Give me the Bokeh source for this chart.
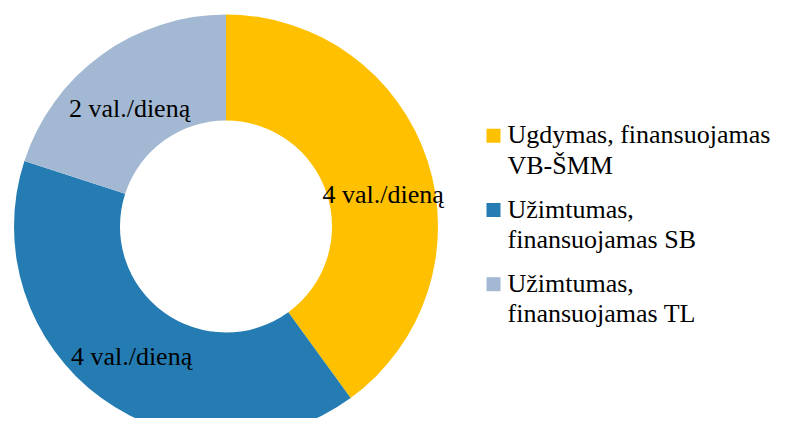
import math
from bokeh.plotting import figure
from bokeh.models import Range1d, ColumnDataSource
from bokeh.core.properties import value
from bokeh.embed import file_html
from bokeh.resources import INLINE

# ---- data ----
categories = ["Ugdymas, finansuojamas VB-ŠMM",
              "Užimtumas, finansuojamas SB",
              "Užimtumas, finansuojamas TL"]
legend_lines = [["Ugdymas, finansuojamas", "VB-ŠMM"],
                ["Užimtumas,", "finansuojamas SB"],
                ["Užimtumas,", "finansuojamas TL"]]
hours = [4, 4, 2]
labels = ["4 val./dieną", "4 val./dieną", "2 val./dieną"]
colors = ["#FFC000", "#247CB3", "#A3B9D3"]

W, H = 771, 418
FONT = "'Times New Roman', 'Liberation Serif', Tinos, 'DejaVu Serif', serif"
FS = "26px"
TXT_SHIFT = 9  # baseline correction (px, upward)

p = figure(width=W, height=H, output_backend="svg", toolbar_location=None,
           x_range=Range1d(0, W), y_range=Range1d(0, H), min_border=0)
p.axis.visible = False
p.grid.visible = False
p.outline_line_color = None
p.background_fill_color = "white"

cx, cy = 225.5, 192.0
r_out, r_in = 212.0, 106.0

total = sum(hours)
starts, ends, mids = [], [], []
a = math.pi / 2
for h in hours:
    span = 2 * math.pi * h / total
    starts.append(a)
    ends.append(a - span)
    mids.append(a - span / 2)
    a -= span

src = ColumnDataSource(dict(start=starts, end=ends, color=colors))
p.annular_wedge(x=cx, y=cy, inner_radius=r_in, outer_radius=r_out,
                start_angle="start", end_angle="end", direction="clock",
                fill_color="color", line_color=None, source=src)

# data labels at mid angle of ring
r_mid = (r_in + r_out) / 2
lx = [cx + r_mid * math.cos(m) for m in mids]
ly = [cy + r_mid * math.sin(m) for m in mids]
lab_dx = [6, -1, -3]
lab_dy = [26 - TXT_SHIFT, 10 - TXT_SHIFT, 20 - TXT_SHIFT]
p.text(x=lx, y=ly, text=labels, x_offset=lab_dx, y_offset=lab_dy,
       text_align="center", text_baseline="alphabetic",
       text_font=value(FONT), text_font_size=FS, text_color="black")

# legend
sq_x = 493
txt_x = 507
entry_top = 274.7
entry_gap = 74.2
line_gap = 30.5
sx, sy, tx, ty, tt = [], [], [], [], []
for i, lines in enumerate(legend_lines):
    base = entry_top - i * entry_gap
    sx.append(sq_x)
    sy.append(base + 8)
    for j, ln in enumerate(lines):
        tx.append(txt_x)
        ty.append(base - j * line_gap + TXT_SHIFT)
        tt.append(ln)
p.rect(x=sx, y=sy, width=14, height=14, fill_color=colors, line_color=None)
p.text(x=tx, y=ty, text=tt, text_align="left", text_baseline="alphabetic",
       text_font=value(FONT), text_font_size=FS, text_color="black")

open("out.html", "w").write(file_html(p, INLINE))
